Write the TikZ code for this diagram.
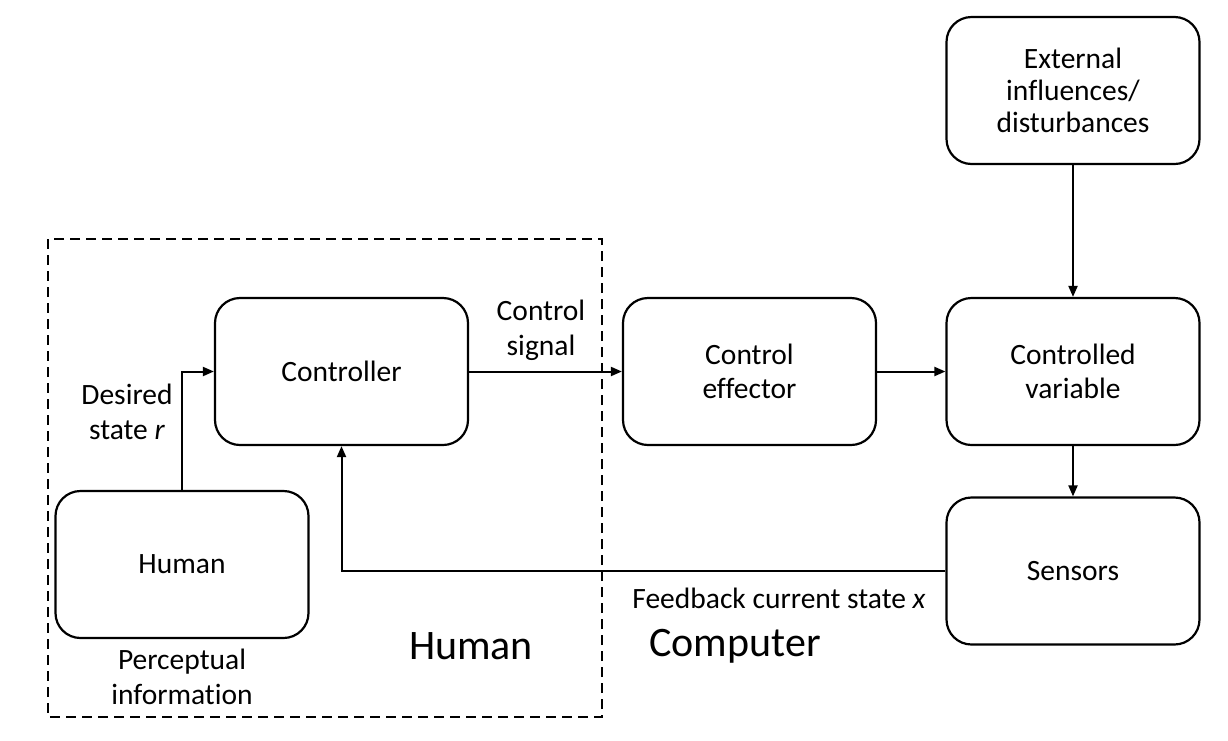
\documentclass[tikz,border=0pt]{standalone}
\usepackage{fontspec}
\setmainfont{Carlito}[Ligatures=NoCommon]
\usetikzlibrary{arrows.meta}
\tikzset{
  box/.style={draw, line width=2.2pt, rounded corners=25pt, minimum width=253pt, minimum height=147pt, inner sep=0pt, align=center, font=\fontsize{29.5}{34.5}\selectfont},
  lbl/.style={align=center, inner sep=0pt, font=\fontsize{29.5}{35}\selectfont},
  big/.style={inner sep=0pt, font=\fontsize{42}{48}\selectfont},
  conn/.style={line width=2pt, -{Triangle[length=11pt,width=9pt]}},
  region/.style={line width=2.2pt, dash pattern=on 10pt off 6pt}
}
\begin{document}
\begin{tikzpicture}[x=1pt,y=-1pt]
\useasboundingbox[fill=white] (0,0) rectangle (1228,740);
% region
\draw[region] (48,239) rectangle (602,717);
% boxes
\node[box] (ctrl) at (341.5,371.5) {Controller};
\node[box] (eff) at (749.5,371.5) {Control\\effector};
\node[box] (cv) at (1073,371.5) {Controlled\\variable};
\node[box, font=\fontsize{29.5}{32}\selectfont] (ext) at (1073,90.5) {External\\influences/\\disturbances};
\node[box] (sens) at (1073,571) {Sensors};
\node[box] (hum) at (182,564.5) {Human};
% connectors
\draw[conn] (hum.north) |- (ctrl.west);
\draw[conn] (ctrl.east) -- (eff.west);
\draw[conn] (eff.east) -- (cv.west);
\draw[conn] (ext.south) -- (cv.north);
\draw[conn] (cv.south) -- (sens.north);
\draw[conn] (sens.west) -| (ctrl.south);
% labels
\node[lbl] (desired) at (127,412) {Desired\\state \textit{r}};
\node[lbl] (signal) at (541,330) {Control\\signal};
\node[lbl] (feedback) at (779,598) {Feedback current state \textit{x}};
\node[lbl] (percept) at (182,677) {Perceptual\\information};
\node[big] (humanlbl) at (471,646) {Human};
\node[big] (computerlbl) at (735,646) {Computer};
\end{tikzpicture}
\end{document}
